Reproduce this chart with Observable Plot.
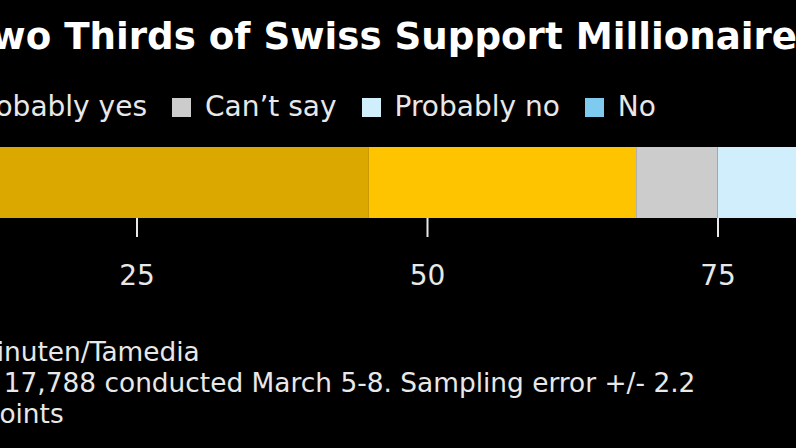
<!DOCTYPE html>
<html>
<head>
<meta charset="utf-8">
<script src="https://cdn.jsdelivr.net/npm/d3@7"></script>
<script src="https://cdn.jsdelivr.net/npm/@observablehq/plot@0.6"></script>
<style>
  html, body { margin: 0; padding: 0; background: #000; }
  body { width: 796px; height: 448px; overflow: hidden; position: relative; font-family: "DejaVu Sans", sans-serif; color: #e8e8e8; }
  .abs { position: absolute; white-space: nowrap; }
  #title { font-family: "DejaVu Sans", sans-serif; font-weight: bold; font-size: 37.2px; color: #fff; left: -30px; top: 12px; line-height: 48px; }
  #legend { left: -168px; top: 90px; font-size: 28px; line-height: 34px; display: flex; align-items: center; }
  #legend .item { display: flex; align-items: center; margin-right: 25px; }
  #legend .sw { width: 19px; height: 19px; margin-right: 14px; }
  #chart { left: -154.5px; top: 140px; width: 1162px; height: 160px; }
  #chart svg { max-width: none; }
  #notes { left: -176px; top: 336px; font-size: 26.4px; line-height: 31px; }
  #notes div:nth-child(2) { padding-left: 12px; }
</style>
</head>
<body>
<div id="title" class="abs"></div>
<div id="legend" class="abs"></div>
<div id="chart" class="abs"></div>
<div id="notes" class="abs"></div>
<script>
const titleText = "Two Thirds of Swiss Support Millionaire Tax";
const answers = ["Yes", "Probably yes", "Can\u2019t say", "Probably no", "No"];
const shares = [45, 23, 7, 10, 15];
const colors = ["#dba800", "#ffc400", "#cccccc", "#d0eefb", "#7fcbef"];
const tickValues = [0, 25, 50, 75, 100];
const noteLines = [
  "Source: 20 Minuten/Tamedia",
  "Note: Poll of 17,788 conducted March 5-8. Sampling error +/- 2.2",
  "percentage points"
];

document.getElementById("title").textContent = titleText;

const legend = document.getElementById("legend");
answers.forEach((a, i) => {
  const item = document.createElement("div");
  item.className = "item";
  const sw = document.createElement("div");
  sw.className = "sw";
  sw.style.background = colors[i];
  const t = document.createElement("span");
  t.textContent = a;
  item.appendChild(sw); item.appendChild(t);
  legend.appendChild(item);
});

document.getElementById("notes").innerHTML = noteLines.map(l => `<div>${l}</div>`).join("");

const data = answers.map((a, i) => ({answer: a, share: shares[i]}));

const plot = Plot.plot({
  width: 1162,
  height: 160,
  marginLeft: 0,
  marginRight: 0,
  marginTop: 7,
  marginBottom: 82,
  style: {background: "transparent", color: "#e8e8e8", fontFamily: "DejaVu Sans, sans-serif", fontSize: "28px", overflow: "visible", maxWidth: "none"},
  x: {domain: [0, 100], axis: null},
  color: {domain: answers, range: colors},
  marks: [
    Plot.barX(data, Plot.stackX({x: "share", fill: "answer", order: answers})),
    Plot.axisX({ticks: tickValues, label: null, tickSize: 19, tickPadding: 28, stroke: "#e8e8e8", strokeWidth: 2, strokeOpacity: 1, fill: "#e8e8e8", fontSize: 28, tickFormat: d => String(d)})
  ]
});
plot.style.maxWidth = "none";
document.getElementById("chart").appendChild(plot);
</script>
</body>
</html>
